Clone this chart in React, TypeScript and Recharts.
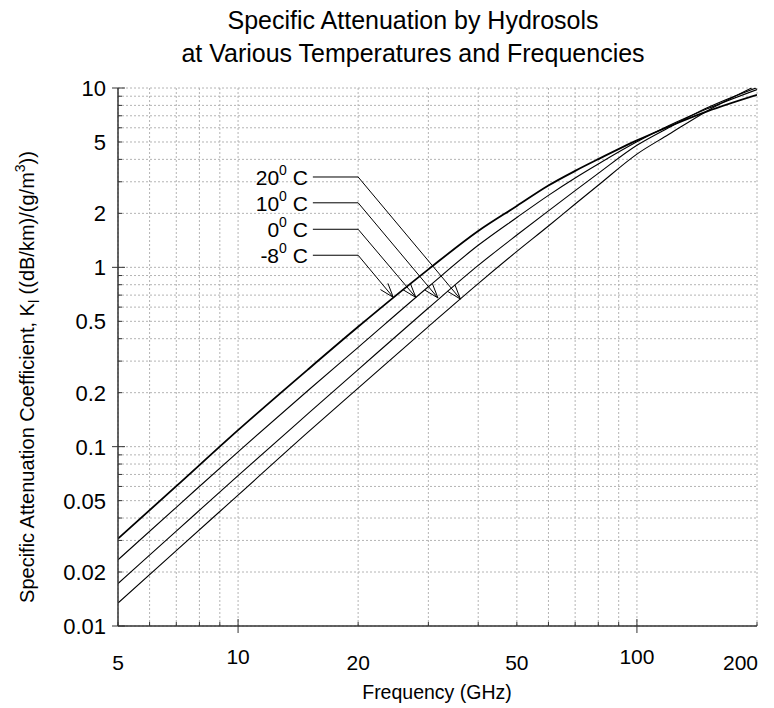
import React from 'react';
import { LineChart, Line, XAxis, YAxis, CartesianGrid, ReferenceLine } from 'recharts';

// frequency (GHz) and specific attenuation K_l ((dB/km)/(g/m^3))
const freqs = [5, 7, 10, 15, 20, 30, 40, 50, 60, 70, 80, 100, 120, 150, 200];
const kMinus8 = [0.0307, 0.0602, 0.1236, 0.2704, 0.466, 0.974, 1.595, 2.2, 2.86, 3.45, 4.01, 5.1, 6.08, 7.4, 9.15];
const k0 = [0.0234, 0.0459, 0.0936, 0.2064, 0.358, 0.779, 1.327, 1.897, 2.52, 3.15, 3.77, 5.01, 6.15, 7.65, 9.8];
const k10 = [0.01724, 0.0338, 0.069, 0.1532, 0.269, 0.593, 1.025, 1.514, 2.065, 2.676, 3.34, 4.79, 6.0, 7.75, 10.05];
const k20 = [0.01343, 0.0263, 0.0537, 0.1209, 0.212, 0.4675, 0.812, 1.227, 1.7, 2.255, 2.87, 4.28, 5.5, 7.45, 10.35];

const xTicks = [5, 6, 7, 8, 9, 10, 20, 30, 40, 50, 60, 70, 80, 90, 100, 200];
const xTickLabels = [5, 10, 20, 50, 100, 200];
const yTicks = [
    0.01, 0.02, 0.03, 0.04, 0.05, 0.06, 0.07, 0.08, 0.09,
    0.1, 0.2, 0.3, 0.4, 0.5, 0.6, 0.7, 0.8, 0.9,
    1, 2, 3, 4, 5, 6, 7, 8, 9, 10,
];
const yTickLabels = [0.01, 0.02, 0.05, 0.1, 0.2, 0.5, 1, 2, 5, 10];
const decades = [0.01, 0.1, 1, 10, 100];

// temperature call-outs: label, level of the label line, arrow tip on the curve
const tempNames = ['20', '10', '0', '-8'];
const tempLevelK = [3.19, 2.29, 1.63, 1.168];
const tipFreq = [36.1, 31.7, 27.9, 24.5];
const tipK = [0.665, 0.675, 0.68, 0.68];
const leaderStartFreq = 15.4;
const elbowFreq = 20;

const FONT = '"Liberation Sans", Arial, sans-serif';
const AXIS = '#333';

const data = freqs.map((f, i) => ({
    f,
    m8: kMinus8[i],
    c0: k0[i],
    c10: k10[i],
    c20: k20[i],
}));

function BottomTick(props: any) {
    const { x, y, payload } = props;
    const v = payload.value;
    const big = decades.includes(v);
    const last = v === xTicks[xTicks.length - 1];
    return (
        <g>
            <line x1={x} x2={x} y1={y - (big ? 7 : 4)} y2={big ? y + 7 : y} stroke={AXIS} strokeWidth={1} />
            {xTickLabels.includes(v) && (
                <text
                    x={last ? x + 1 : x}
                    y={y + (big ? 38 : 44)}
                    textAnchor={last ? 'end' : 'middle'}
                    fontSize={21}
                    fontFamily={FONT}
                    fill="#000"
                >
                    {v}
                </text>
            )}
        </g>
    );
}

function TopTick(props: any) {
    const { x, y, payload } = props;
    const big = decades.includes(payload.value);
    return <line x1={x} x2={x} y1={big ? y - 5 : y} y2={y + (big ? 7 : 5)} stroke={AXIS} strokeWidth={1} />;
}

function LeftTick(props: any) {
    const { x, y, payload } = props;
    const v = payload.value;
    const big = decades.includes(v);
    return (
        <g>
            <line x1={big ? x - 6 : x} x2={x + (big ? 7 : 4)} y1={y} y2={y} stroke={AXIS} strokeWidth={1} />
            {yTickLabels.includes(v) && (
                <text x={x - 12} y={y} dy="0.36em" textAnchor="end" fontSize={22} fontFamily={FONT} fill="#000">
                    {v}
                </text>
            )}
        </g>
    );
}

function RightTick(props: any) {
    const { x, y, payload } = props;
    const big = decades.includes(payload.value);
    return <line x1={x - (big ? 7 : 4)} x2={big ? x + 5 : x} y1={y} y2={y} stroke={AXIS} strokeWidth={1} />;
}

function arrowShape(p: any) {
    const { x1, y1, x2, y2 } = p;
    const a = Math.atan2(y2 - y1, x2 - x1);
    const len = 15;
    const spread = 0.33;
    const ax = x2 - len * Math.cos(a - spread);
    const ay = y2 - len * Math.sin(a - spread);
    const bx = x2 - len * Math.cos(a + spread);
    const by = y2 - len * Math.sin(a + spread);
    return (
        <g>
            <line x1={x1} y1={y1} x2={x2} y2={y2} stroke="#000" strokeWidth={1} />
            <polyline points={`${ax},${ay} ${x2},${y2} ${bx},${by}`} fill="none" stroke="#000" strokeWidth={1} />
        </g>
    );
}

function labelShape(name: string) {
    return (p: any) => {
        const { x1, y1, x2, y2 } = p;
        return (
            <g>
                <line x1={x1} y1={y1} x2={x2} y2={y2} stroke="#000" strokeWidth={1} />
                <text x={x1 - 5} y={y1 + 8} textAnchor="end" fontSize={21} fontFamily={FONT} fill="#000">
                    {name}
                    <tspan fontSize={14} dy={-10}>0</tspan>
                    <tspan dy={10}> C</tspan>
                </text>
            </g>
        );
    };
}

export default function App() {
    return (
        <div style={{ position: 'absolute', left: 0, top: 0, width: 774, height: 708, background: '#fff' }}>
            <LineChart
                width={774}
                height={708}
                data={data}
                margin={{ top: 88, right: 17, bottom: 0, left: 0 }}
            >
                <CartesianGrid
                    xAxisId="b"
                    yAxisId="l"
                    stroke="#b4b4b4"
                    strokeDasharray="2 2"
                    strokeWidth={1}
                />
                <XAxis
                    xAxisId="b"
                    dataKey="f"
                    type="number"
                    scale="log"
                    domain={[5, 200]}
                    allowDataOverflow
                    ticks={xTicks}
                    interval={0}
                    height={82}
                    tickSize={0}
                    tickMargin={0}
                    tickLine={false}
                    tick={<BottomTick />}
                    axisLine={{ stroke: AXIS, strokeWidth: 1.5 }}
                />
                <XAxis
                    xAxisId="t"
                    orientation="top"
                    dataKey="f"
                    type="number"
                    scale="log"
                    domain={[5, 200]}
                    allowDataOverflow
                    ticks={xTicks}
                    interval={0}
                    height={0}
                    tickSize={0}
                    tickMargin={0}
                    tickLine={false}
                    tick={<TopTick />}
                    axisLine={{ stroke: '#000', strokeWidth: 1.5 }}
                />
                <YAxis
                    yAxisId="l"
                    type="number"
                    scale="log"
                    domain={[0.01, 10]}
                    allowDataOverflow
                    ticks={yTicks}
                    interval={0}
                    width={118}
                    tickSize={0}
                    tickMargin={0}
                    tickLine={false}
                    tick={<LeftTick />}
                    axisLine={{ stroke: AXIS, strokeWidth: 1.5 }}
                />
                <YAxis
                    yAxisId="r"
                    orientation="right"
                    type="number"
                    scale="log"
                    domain={[0.01, 10]}
                    allowDataOverflow
                    ticks={yTicks}
                    interval={0}
                    width={0}
                    tickSize={0}
                    tickMargin={0}
                    tickLine={false}
                    tick={<RightTick />}
                    axisLine={{ stroke: '#000', strokeWidth: 1.5 }}
                />

                <Line xAxisId="b" yAxisId="l" type="monotone" dataKey="c20" stroke="#000" strokeWidth={1.1} dot={false} isAnimationActive={false} />
                <Line xAxisId="b" yAxisId="l" type="monotone" dataKey="c10" stroke="#000" strokeWidth={1.1} dot={false} isAnimationActive={false} />
                <Line xAxisId="b" yAxisId="l" type="monotone" dataKey="c0" stroke="#000" strokeWidth={1.1} dot={false} isAnimationActive={false} />
                <Line xAxisId="b" yAxisId="l" type="monotone" dataKey="m8" stroke="#000" strokeWidth={1.8} dot={false} isAnimationActive={false} />

                {tempNames.map((name, i) => (
                    <ReferenceLine
                        key={'h' + name}
                        xAxisId="b"
                        yAxisId="l"
                        segment={[
                            { x: leaderStartFreq, y: tempLevelK[i] },
                            { x: elbowFreq, y: tempLevelK[i] },
                        ]}
                        ifOverflow="visible"
                        shape={labelShape(name)}
                    />
                ))}
                {tempNames.map((name, i) => (
                    <ReferenceLine
                        key={'a' + name}
                        xAxisId="b"
                        yAxisId="l"
                        segment={[
                            { x: elbowFreq, y: tempLevelK[i] },
                            { x: tipFreq[i], y: tipK[i] },
                        ]}
                        ifOverflow="visible"
                        shape={arrowShape}
                    />
                ))}
            </LineChart>

            <svg
                width={774}
                height={708}
                style={{ position: 'absolute', left: 0, top: 0, pointerEvents: 'none' }}
                fontFamily={FONT}
            >
                <text x={413} y={29} textAnchor="middle" fontSize={25} fill="#000">
                    Specific Attenuation by Hydrosols
                </text>
                <text x={413} y={62} textAnchor="middle" fontSize={25} fill="#000">
                    at Various Temperatures and Frequencies
                </text>
                <text x={437} y={699} textAnchor="middle" fontSize={19.5} fill="#000">
                    Frequency (GHz)
                </text>
                <text transform="translate(34,377) rotate(-90)" textAnchor="middle" fontSize={20} fill="#000">
                    Specific Attenuation Coefficient, K
                    <tspan fontSize={14} dy={5}>l</tspan>
                    <tspan dy={-5}> ((dB/km)/(g/m</tspan>
                    <tspan fontSize={14} dy={-9}>3</tspan>
                    <tspan dy={9}>))</tspan>
                </text>
            </svg>
        </div>
    );
}
